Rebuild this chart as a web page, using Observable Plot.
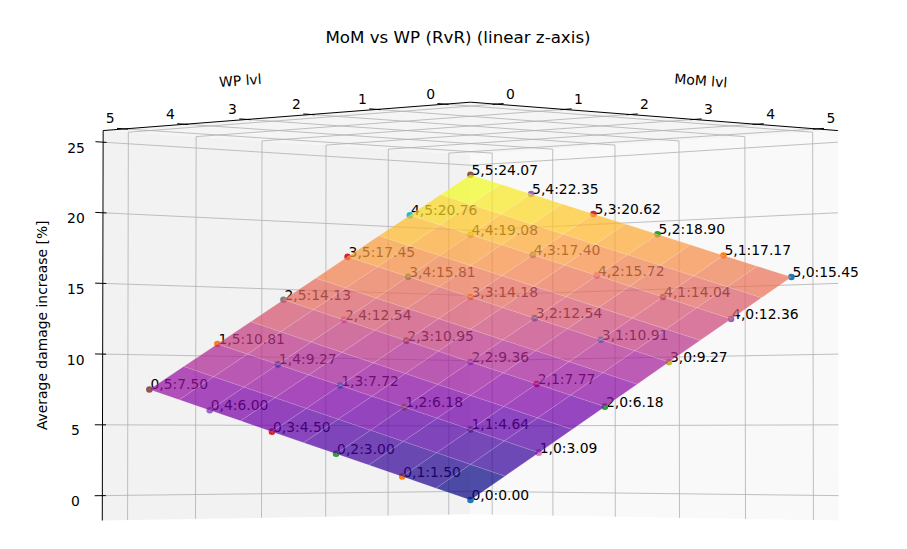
<!DOCTYPE html>
<html><head><meta charset="utf-8">
<script src="https://cdn.jsdelivr.net/npm/d3@7"></script>
<script src="https://cdn.jsdelivr.net/npm/@observablehq/plot@0.6"></script>
<style>html,body{margin:0;padding:0;background:#fff;} svg{display:block}</style>
</head><body><div id="chart"></div>
<script>
// ---------- data ----------
const chartTitle = "MoM vs WP (RvR) (linear z-axis)";
const momLevels = [0, 1, 2, 3, 4, 5];           // x axis
const wpLevels  = [0, 1, 2, 3, 4, 5];           // y axis
// damage[mom][wp]  (Average damage increase, %)
const damage0 = [0.00, 1.50, 3.00, 4.50, 6.00, 7.50];
const damage1 = [3.09, 4.64, 6.18, 7.72, 9.27, 10.81];
const damage2 = [6.18, 7.77, 9.36, 10.95, 12.54, 14.13];
const damage3 = [9.27, 10.91, 12.54, 14.18, 15.81, 17.45];
const damage4 = [12.36, 14.04, 15.72, 17.40, 19.08, 20.76];
const damage5 = [15.45, 17.17, 18.90, 20.62, 22.35, 24.07];
const damage = [damage0, damage1, damage2, damage3, damage4, damage5];
const zTicks = [0, 5, 10, 15, 20, 25];
const xLabel = "MoM lvl", yLabel = "WP lvl", zLabel = "Average damage increase [%]";
const tab10 = ["#1f77b4","#ff7f0e","#2ca02c","#d62728","#9467bd","#8c564b","#e377c2","#7f7f7f","#bcbd22","#17becf"];

// ---------- 3D camera (matplotlib-like perspective) ----------
const W = 907, H = 549;
const elev = -1.5, azim = -135, dist = 10;
const S = 4369, cx = 470, cy = 324.8;
function lims(vals) {
  let lo = d3.min(vals), hi = d3.max(vals);
  const m = (hi - lo) * 0.05; lo -= m; hi += m;
  const vm = (hi - lo) / 48; return [lo - vm, hi + vm];
}
const XL = lims(momLevels), YL = lims(wpLevels), ZL = lims(damage.flat());
const asp = [4, 4, 3], nrm = Math.hypot(...asp);
const box = asp.map(a => a * 1.8294640721620434 * 25 / 24 / nrm);
const R = box.map(b => b / 2);
const er = elev * Math.PI / 180, ar = azim * Math.PI / 180;
const wv = [Math.cos(er) * Math.cos(ar), Math.cos(er) * Math.sin(ar), Math.sin(er)];
let uv = [-wv[1], wv[0], 0]; { const n = Math.hypot(...uv); uv = uv.map(a => a / n); }
const vv = [wv[1]*uv[2]-wv[2]*uv[1], wv[2]*uv[0]-wv[0]*uv[2], wv[0]*uv[1]-wv[1]*uv[0]];
const dot3 = (a, b) => a[0]*b[0] + a[1]*b[1] + a[2]*b[2];
function proj(mx, wy, z) {
  const p = [(mx - XL[0]) / (XL[1] - XL[0]) * box[0],
             (wy - YL[0]) / (YL[1] - YL[0]) * box[1],
             (z - ZL[0]) / (ZL[1] - ZL[0]) * box[2]];
  const q = p.map((a, i) => a - R[i]);
  const depth = dist - dot3(wv, q);
  return {px: cx + S * dot3(uv, q) / depth, py: cy - S * dot3(vv, q) / depth, depth};
}
function seg(a, b, extra = {}) {
  const A = proj(...a), B = proj(...b);
  return {x1: A.px, y1: A.py, x2: B.px, y2: B.py, ...extra};
}

// ---------- panes ----------
const paneRows = [];
function pane(id, corners, fill) {
  [...corners, corners[0]].forEach(c => { const P = proj(...c); paneRows.push({id, px: P.px, py: P.py, fill}); });
}
pane("y", [[XL[0],YL[1],ZL[0]],[XL[1],YL[1],ZL[0]],[XL[1],YL[1],ZL[1]],[XL[0],YL[1],ZL[1]]], "#f2f2f2");
pane("x", [[XL[1],YL[0],ZL[0]],[XL[1],YL[1],ZL[0]],[XL[1],YL[1],ZL[1]],[XL[1],YL[0],ZL[1]]], "#f9f9f9");
pane("z", [[XL[0],YL[0],ZL[1]],[XL[1],YL[0],ZL[1]],[XL[1],YL[1],ZL[1]],[XL[0],YL[1],ZL[1]]], "#f5f5f5");

// ---------- grid ----------
const grid = [];
momLevels.forEach(t => { grid.push(seg([t,YL[1],ZL[0]],[t,YL[1],ZL[1]])); grid.push(seg([t,YL[0],ZL[1]],[t,YL[1],ZL[1]])); });
wpLevels.forEach(t => { grid.push(seg([XL[1],t,ZL[0]],[XL[1],t,ZL[1]])); grid.push(seg([XL[0],t,ZL[1]],[XL[1],t,ZL[1]])); });
zTicks.forEach(z => { grid.push(seg([XL[0],YL[1],z],[XL[1],YL[1],z])); grid.push(seg([XL[1],YL[0],z],[XL[1],YL[1],z])); });

// ---------- axes ----------
const axes = [
  seg([XL[0],YL[0],ZL[1]],[XL[1],YL[0],ZL[1]]),
  seg([XL[0],YL[0],ZL[1]],[XL[0],YL[1],ZL[1]]),
  seg([XL[0],YL[1],ZL[0]],[XL[0],YL[1],ZL[1]])
];
const ticks = [];
momLevels.forEach(t => ticks.push(seg([t,YL[0]-0.11,ZL[1]],[t,YL[0]+0.05,ZL[1]])));
wpLevels.forEach(t => ticks.push(seg([XL[0]-0.11,t,ZL[1]],[XL[0]+0.05,t,ZL[1]])));
zTicks.forEach(z => ticks.push(seg([XL[0]-0.11,YL[1],z],[XL[0]+0.05,YL[1],z])));

const tickLabels = [];
momLevels.forEach(t => { const P = proj(t, YL[0], ZL[1]); tickLabels.push({px: P.px + 14.5, py: P.py - 10, label: String(t)}); });
wpLevels.forEach(t => { const P = proj(XL[0], t, ZL[1]); tickLabels.push({px: P.px - 14.5, py: P.py - 10, label: String(t)}); });
zTicks.forEach(z => { const P = proj(XL[0], YL[1], z); tickLabels.push({px: P.px - 27, py: P.py + 6, label: String(z)}); });

const xm = proj((momLevels[0]+momLevels[5])/2, YL[0], ZL[1]);
const ym = proj(XL[0], (wpLevels[0]+wpLevels[5])/2, ZL[1]);
const xa0 = proj(XL[0],YL[0],ZL[1]), xa1 = proj(XL[1],YL[0],ZL[1]), ya1 = proj(XL[0],YL[1],ZL[1]);
const xRot = Math.atan2(xa1.py - xa0.py, xa1.px - xa0.px) * 180 / Math.PI;
const yRot = Math.atan2(xa0.py - ya1.py, xa0.px - ya1.px) * 180 / Math.PI;
const zm = proj(XL[0], YL[1], (ZL[0]+ZL[1])/2);
const axisLabels = [
  {px: xm.px + 38.5, py: xm.py - 36, label: xLabel, rot: xRot},
  {px: ym.px - 38.5, py: ym.py - 36, label: yLabel, rot: yRot},
  {px: zm.px - 60, py: zm.py, label: zLabel, rot: -90}
];

// ---------- points ----------
const points = [];
momLevels.forEach((m, i) => wpLevels.forEach((w, j) => {
  const z = damage[i][j], P = proj(m, w, z);
  points.push({px: P.px, py: P.py, color: tab10[(i * wpLevels.length + j) % 10],
               label: `${m},${w}:${z.toFixed(2)}`});
}));

// ---------- surface (each cell shaded as 2x2 bilinear patches) ----------
const faces = [];
for (let i = 0; i < momLevels.length - 1; i++) for (let j = 0; j < wpLevels.length - 1; j++) {
  const zb = (a, b) => damage[i][j]*(1-a)*(1-b) + damage[i+1][j]*a*(1-b) + damage[i][j+1]*(1-a)*b + damage[i+1][j+1]*a*b;
  const mAt = a => momLevels[i] + a * (momLevels[i+1] - momLevels[i]);
  const wAt = b => wpLevels[j] + b * (wpLevels[j+1] - wpLevels[j]);
  for (const a0 of [0, 0.5]) for (const b0 of [0, 0.5]) {
    const cs = [[a0,b0],[a0+0.5,b0],[a0+0.5,b0+0.5],[a0,b0+0.5]].map(([a,b]) => [mAt(a), wAt(b), zb(a,b)]);
    const pr = cs.map(c => proj(...c));
    faces.push({pr, zmean: d3.mean(cs, c => c[2]), depth: d3.mean(pr, p => p.depth)});
  }
}
const [zmin, zmax] = d3.extent(faces, f => f.zmean);
faces.sort((a, b) => b.depth - a.depth);
const faceRows = [];
faces.forEach((f, k) => {
  const fill = d3.interpolatePlasma((f.zmean - zmin) / (zmax - zmin));
  [...f.pr, f.pr[0]].forEach(p => faceRows.push({id: k, px: p.px, py: p.py, fill}));
});

const font = "DejaVu Sans";
const chart = Plot.plot({
  width: W, height: H,
  marginTop: 0, marginRight: 0, marginBottom: 0, marginLeft: 0,
  x: {type: "identity", axis: null},
  y: {type: "identity", axis: null},
  style: {fontFamily: font, background: "#fff", overflow: "visible"},
  marks: [
    Plot.line(paneRows, {x: "px", y: "py", z: "id", fill: "fill", stroke: "none"}),
    Plot.link(grid, {x1: "x1", y1: "y1", x2: "x2", y2: "y2", stroke: "#b0b0b0", strokeWidth: 0.8}),
    Plot.link(axes, {x1: "x1", y1: "y1", x2: "x2", y2: "y2", stroke: "#000", strokeWidth: 1}),
    Plot.link(ticks, {x1: "x1", y1: "y1", x2: "x2", y2: "y2", stroke: "#000", strokeWidth: 1}),
    Plot.text(tickLabels, {x: "px", y: "py", text: "label", fontSize: 13.9, fill: "#000", textAnchor: "middle", lineAnchor: "middle"}),
    Plot.text(axisLabels, {x: "px", y: "py", text: "label", rotate: "rot", fontSize: 13.9, fill: "#000", textAnchor: "middle", lineAnchor: "middle"}),
    Plot.text(points, {x: "px", y: "py", text: "label", fontSize: 13.9, fill: "#000", textAnchor: "start", lineAnchor: "bottom", dx: 1}),
    Plot.dot(points, {x: "px", y: "py", fill: "color", r: 3.3}),
    Plot.line(faceRows, {x: "px", y: "py", z: "id", fill: "fill", fillOpacity: 0.72, stroke: "#fff", strokeOpacity: 0.22, strokeWidth: 0.6}),
    Plot.text([{label: chartTitle}], {x: () => W / 2 + 4, y: () => 42.3, text: "label", fontSize: 16.7, fill: "#000", textAnchor: "middle", lineAnchor: "bottom"})
  ]
});
document.getElementById("chart").append(chart);
</script>
</body></html>
